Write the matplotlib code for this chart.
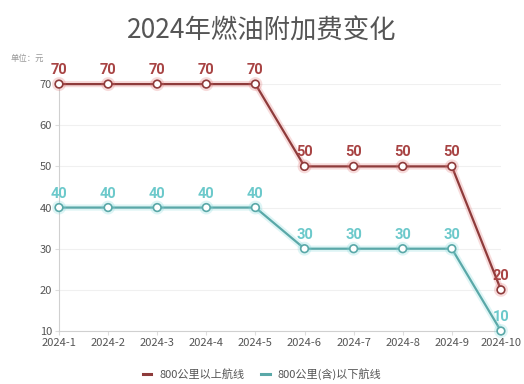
import matplotlib
matplotlib.use("Agg")
import matplotlib.pyplot as plt
import matplotlib.patheffects as pe
from matplotlib import font_manager

plt.rcParams['font.family'] = ['Noto Sans CJK SC', 'DejaVu Sans']

months = ["2024-1", "2024-2", "2024-3", "2024-4", "2024-5",
          "2024-6", "2024-7", "2024-8", "2024-9", "2024-10"]
above800 = [70, 70, 70, 70, 70, 50, 50, 50, 50, 20]
below800 = [40, 40, 40, 40, 40, 30, 30, 30, 30, 10]
series_names = ["800公里以上航线", "800公里(含)以下航线"]
yticks = [10, 20, 30, 40, 50, 60, 70]

names = {f.name for f in font_manager.fontManager.ttflist}
label_font = 'Liberation Sans Narrow' if 'Liberation Sans Narrow' in names else 'Roboto'

red = "#8e3b3b"
red_glow = "#e07070"
red_label = "#a84444"
cyan = "#5aa8a8"
cyan_glow = "#7fd8da"
cyan_label = "#6cc9cb"

fig = plt.figure(figsize=(5.24, 3.84), dpi=100)
ax = fig.add_axes([0.1126, 0.138, 0.8434, 0.643])

x = list(range(len(months)))
for vals, col, glow, lcol, name in [(above800, red, red_glow, red_label, series_names[0]),
                                    (below800, cyan, cyan_glow, cyan_label, series_names[1])]:
    ax.plot(x, vals, color=col, lw=1.6, marker='o', markersize=5.5,
            markerfacecolor='white', markeredgecolor=col, markeredgewidth=1.2,
            clip_on=False, zorder=3, label=name,
            path_effects=[pe.Stroke(linewidth=4.5, foreground=glow, alpha=0.25),
                          pe.Normal()])
    for xi, v in zip(x, vals):
        ax.annotate(str(v), (xi, v), xytext=(0, 5), textcoords='offset points',
                    ha='center', va='bottom', fontsize=10.5, fontweight='bold',
                    color=lcol, family=[label_font, 'DejaVu Sans'])

ax.set_xlim(0, len(months) - 1)
ax.set_ylim(10, 70)
ax.set_xticks(x)
ax.set_xticklabels(months, fontsize=8, color='#555555')
ax.set_yticks(yticks)
ax.set_yticklabels([str(t) for t in yticks], fontsize=8, color='#555555')
ax.tick_params(axis='both', length=3, color='#dddddd', pad=2)
ax.grid(axis='y', color='#f0f0f0', lw=0.8)
for s in ['top', 'right']:
    ax.spines[s].set_visible(False)
for s in ['left', 'bottom']:
    ax.spines[s].set_color('#d0d0d0')
ax.set_axisbelow(True)

fig.text(0.5, 0.92, "2024年燃油附加费变化", ha='center', va='center',
         fontsize=19, color='#555555')
fig.text(0.02, 0.848, "单位：元", ha='left', va='center', fontsize=6, color='#999999')

leg = fig.legend(loc='center', bbox_to_anchor=(0.5, 0.025), ncol=2, frameon=False,
                 fontsize=8, handlelength=0.8, handletextpad=0.7, columnspacing=1.5)
for h in leg.legend_handles:
    h.set_marker('')
    h.set_linewidth(2.2)
    h.set_path_effects([])
for t in leg.get_texts():
    t.set_color('#555555')

fig.savefig("out.png", dpi=100)
